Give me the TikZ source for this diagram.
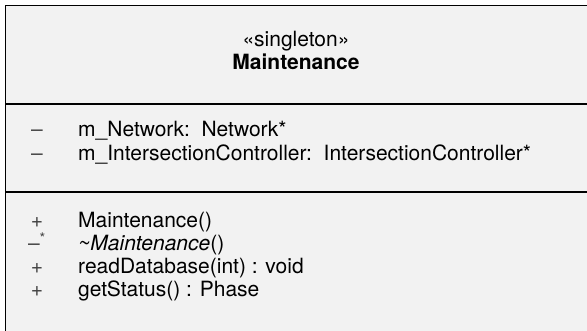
\documentclass[tikz,border=0pt]{standalone}
\usepackage{fontspec}
\setmainfont{TeX Gyre Heros}
\usepackage{tikz}
\definecolor{boxfill}{HTML}{F2F2F2}
\definecolor{signgray}{HTML}{444444}

\begin{document}
\begin{tikzpicture}[x=1pt, y=-1pt,
  every node/.style={inner sep=0pt, font=\fontsize{21}{25}\selectfont},
  member/.style={anchor=base west},
  sign/.style={anchor=base, text=signgray}]
  \useasboundingbox (0,0) rectangle (587,331);

  % class box, cut off at right and bottom
  \fill[boxfill] (5.5,5.5) rectangle (590,335);
  \draw[line width=1.6pt] (5.5,335) -- (5.5,5.5) -- (590,5.5);
  \draw[line width=1.2pt] (5.5,104) -- (590,104);
  \draw[line width=1.2pt] (5.5,192) -- (590,192);

  % header
  \node[anchor=base] (stereo) at (296,47) {«singleton»};
  \node[anchor=base, font=\fontsize{21}{25}\bfseries] (name) at (296,70) {Maintenance};

  % attributes
  \node[sign] (s1) at (37,137) {–};
  \node[member] (a1) at (78,137) {m\_Network:\ \ Network*};
  \node[sign] (s2) at (37,160.5) {–};
  \node[member] (a2) at (78,160.5) {m\_IntersectionController:\ \ IntersectionController*};

  % operations
  \node[sign] (s3) at (37,228) {+};
  \node[member] (o1) at (78,228) {Maintenance()};
  \node[sign] (s4) at (37,251) {–\textsuperscript{*}};
  \node[member] (o2) at (78,251) {\textit{\char`\~Maintenance}()};
  \node[sign] (s5) at (37,274) {+};
  \node[member] (o3) at (78,274) {readDatabase(int) : void};
  \node[sign] (s6) at (37,297) {+};
  \node[member] (o4) at (78,297) {getStatus() : Phase};

\end{tikzpicture}
\end{document}
